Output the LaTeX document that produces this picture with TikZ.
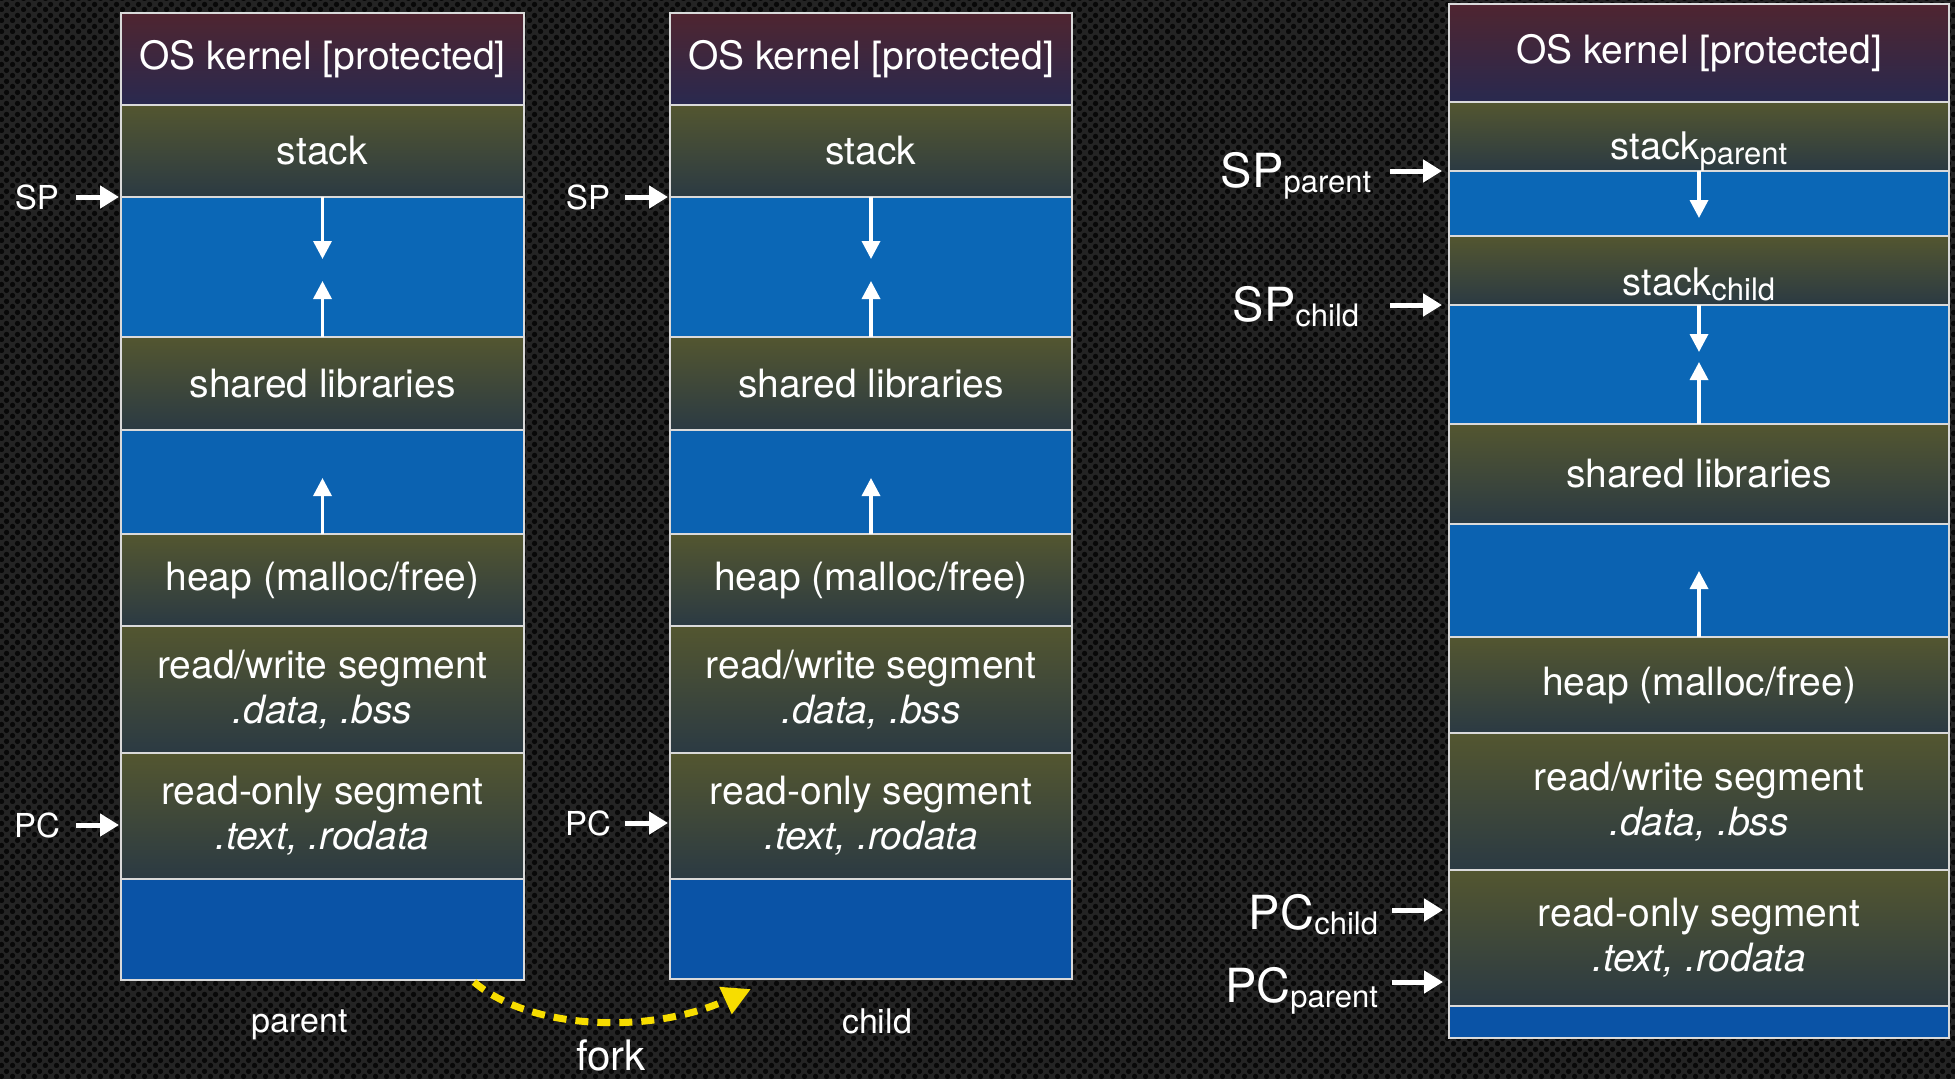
\documentclass[tikz,border=0pt]{standalone}
\usepackage{fontspec}
\setmainfont{TeX Gyre Heros}
\usetikzlibrary{arrows.meta,patterns.meta}

\definecolor{bgmetal}{HTML}{242424}
\definecolor{bghole}{HTML}{080808}
\definecolor{kertop}{HTML}{4F2530}
\definecolor{kerbot}{HTML}{29294F}
\definecolor{grntop}{HTML}{535630}
\definecolor{grnbot}{HTML}{2B3A43}
\definecolor{blueA}{HTML}{0B67B6}
\definecolor{blueB}{HTML}{0B62B1}
\definecolor{blueC}{HTML}{0A53A6}
\definecolor{bordc}{HTML}{DADADA}
\definecolor{forkc}{HTML}{F7DD00}

\tikzdeclarepattern{
  name=perf,
  bounding box={(0pt,0pt) and (11pt,11pt)},
  tile size={(11pt,11pt)},
  code={
    \pgfpathcircle{\pgfpoint{2.75pt}{2.75pt}}{2.9pt}
    \pgfpathcircle{\pgfpoint{8.25pt}{8.25pt}}{2.9pt}
    \pgfusepath{fill}
  }
}

\newcommand\mkblk[7]{\node[#2, minimum width=#5pt, minimum height=#6pt] (#1) at (#3,#4) {#7};}
\newcommand\subl[1]{{\fontsize{31}{31}\selectfont\raisebox{-5pt}{#1}}}

\begin{document}
\begin{tikzpicture}[x=1pt,y=-1pt,
  blk/.style={draw=bordc, line width=2pt, inner sep=0pt, outer sep=0pt,
    anchor=north west, text=white, align=center,
    font=\fontsize{39}{45}\selectfont},
  kern/.style={blk, top color=kertop, bottom color=kerbot},
  seg/.style={blk, top color=grntop, bottom color=grnbot},
  freeA/.style={blk, fill=blueA},
  freeB/.style={blk, fill=blueB},
  freeC/.style={blk, fill=blueC},
  lbl/.style={text=white, inner sep=0pt, outer sep=0pt},
  smalllbl/.style={lbl, font=\fontsize{33}{33}\selectfont},
  biglbl/.style={lbl, font=\fontsize{47}{47}\selectfont},
  ptr/.style={draw=white, line width=5pt, -{Triangle[length=19pt,width=22pt]}},
  growarr/.style={draw=white, line width=3.5pt, -{Triangle[length=18pt,width=18pt]}},
  forkarrow/.style={draw=forkc, line width=7pt, dash pattern=on 13pt off 9pt,
    -{Triangle[length=28pt,width=28pt]}}
]
\useasboundingbox (0,0) rectangle (1955,1079);
\fill[bgmetal] (0,0) rectangle (1955,1079);
\fill[pattern=perf, pattern color=bghole] (0,0) rectangle (1955,1079);

% ---------- parent column ----------
\mkblk{pKer}{kern}{121}{13}{403}{92}{OS kernel [protected]}
\mkblk{pStk}{seg}{121}{105}{403}{92}{stack}
\mkblk{pGap1}{freeA}{121}{197}{403}{140}{}
\mkblk{pShr}{seg}{121}{337}{403}{93}{shared libraries}
\mkblk{pGap2}{freeB}{121}{430}{403}{104}{}
\mkblk{pHeap}{seg}{121}{534}{403}{92}{heap (malloc/free)}
\mkblk{pRW}{seg}{121}{626}{403}{127}{read/write segment\\\textit{.data, .bss}}
\mkblk{pRO}{seg}{121}{753}{403}{126}{read-only segment\\\textit{.text, .rodata}}
\mkblk{pGap3}{freeC}{121}{879}{403}{101}{}

% ---------- child column ----------
\mkblk{cKer}{kern}{670}{13}{402}{92}{OS kernel [protected]}
\mkblk{cStk}{seg}{670}{105}{402}{92}{stack}
\mkblk{cGap1}{freeA}{670}{197}{402}{140}{}
\mkblk{cShr}{seg}{670}{337}{402}{93}{shared libraries}
\mkblk{cGap2}{freeB}{670}{430}{402}{104}{}
\mkblk{cHeap}{seg}{670}{534}{402}{92}{heap (malloc/free)}
\mkblk{cRW}{seg}{670}{626}{402}{127}{read/write segment\\\textit{.data, .bss}}
\mkblk{cRO}{seg}{670}{753}{402}{126}{read-only segment\\\textit{.text, .rodata}}
\mkblk{cGap3}{freeC}{670}{879}{402}{100}{}

% ---------- combined column ----------
\mkblk{rKer}{kern}{1449}{4}{500}{98}{OS kernel [protected]}
\mkblk{rStkP}{seg}{1449}{102}{500}{69}{}
\mkblk{rGap1}{freeA}{1449}{171}{500}{65}{}
\mkblk{rStkC}{seg}{1449}{236}{500}{69}{}
\mkblk{rGap2}{freeA}{1449}{305}{500}{119}{}
\mkblk{rShr}{seg}{1449}{424}{500}{100}{shared libraries}
\mkblk{rGap3}{freeB}{1449}{524}{500}{113}{}
\mkblk{rHeap}{seg}{1449}{637}{500}{96}{heap (malloc/free)}
\mkblk{rRW}{seg}{1449}{733}{500}{137}{read/write segment\\\textit{.data, .bss}}
\mkblk{rRO}{seg}{1449}{870}{500}{136}{read-only segment\\\textit{.text, .rodata}}
\mkblk{rGap4}{freeC}{1449}{1006}{500}{32}{}

\node[lbl, font=\fontsize{38}{38}\selectfont, anchor=base] (rStkPT) at (1699,159) {stack\subl{parent}};
\node[lbl, font=\fontsize{38}{38}\selectfont, anchor=base] (rStkCT) at (1699,295) {stack\subl{child}};

% ---------- growth arrows ----------
\coordinate (pDn) at (322.5,259);
\coordinate (pUp) at (322.5,281);
\coordinate (pUp2) at (322.5,478);
\draw[growarr] (pGap1.north) -- (pDn);
\draw[growarr] (pGap1.south) -- (pUp);
\draw[growarr] (pGap2.south) -- (pUp2);

\coordinate (cDn) at (871,259);
\coordinate (cUp) at (871,281);
\coordinate (cUp2) at (871,478);
\draw[growarr] (cGap1.north) -- (cDn);
\draw[growarr] (cGap1.south) -- (cUp);
\draw[growarr] (cGap2.south) -- (cUp2);

\coordinate (rDn1) at (1699,218);
\coordinate (rDn2) at (1699,352);
\coordinate (rUp1) at (1699,362);
\coordinate (rUp2) at (1699,571);
\draw[growarr] (rGap1.north) -- (rDn1);
\draw[growarr] (rGap2.north) -- (rDn2);
\draw[growarr] (rGap2.south) -- (rUp1);
\draw[growarr] (rGap3.south) -- (rUp2);

% ---------- SP / PC pointers ----------
\node[smalllbl] (spP) at (37,197) {SP};
\coordinate (spPa) at (76,197);
\draw[ptr, shorten >=2pt] (spPa) -- (pStk.south west);
\node[smalllbl] (pcP) at (37,825) {PC};
\coordinate (pcPa) at (76,825);
\coordinate (pcPb) at (121,825);
\draw[ptr, shorten >=2pt] (pcPa) -- (pcPb);

\node[smalllbl] (spC) at (588,197) {SP};
\coordinate (spCa) at (625,197);
\draw[ptr, shorten >=2pt] (spCa) -- (cStk.south west);
\node[smalllbl] (pcC) at (588,823) {PC};
\coordinate (pcCa) at (625,823);
\coordinate (pcCb) at (670,823);
\draw[ptr, shorten >=2pt] (pcCa) -- (pcCb);

\node[biglbl, anchor=base] (spRP) at (1296,187) {SP\subl{parent}};
\coordinate (spRPa) at (1390,171);
\draw[ptr, shorten >=7pt] (spRPa) -- (rStkP.south west);
\node[biglbl, anchor=base] (spRC) at (1296,321) {SP\subl{child}};
\coordinate (spRCa) at (1390,305);
\draw[ptr, shorten >=7pt] (spRCa) -- (rStkC.south west);

\node[biglbl, anchor=base east] (pcRC) at (1378,929) {PC\subl{child}};
\coordinate (pcRCa) at (1392,910);
\coordinate (pcRCb) at (1443,910);
\draw[ptr] (pcRCa) -- (pcRCb);
\node[biglbl, anchor=base east] (pcRP) at (1378,1002) {PC\subl{parent}};
\coordinate (pcRPa) at (1392,982);
\coordinate (pcRPb) at (1443,982);
\draw[ptr] (pcRPa) -- (pcRPb);

% ---------- captions and fork ----------
\node[lbl, font=\fontsize{34}{34}\selectfont, anchor=base] (capP) at (300,1032) {parent};
\node[lbl, font=\fontsize{34}{34}\selectfont, anchor=base] (capC) at (877,1033) {child};
\node[lbl, font=\fontsize{42}{42}\selectfont, anchor=base] (capF) at (611,1070) {fork};

\coordinate (fkS) at (474,982);
\coordinate (fkE) at (751,989);
\draw[forkarrow] (fkS) .. controls (530,1030) and (650,1035) .. (fkE);
\end{tikzpicture}
\end{document}
